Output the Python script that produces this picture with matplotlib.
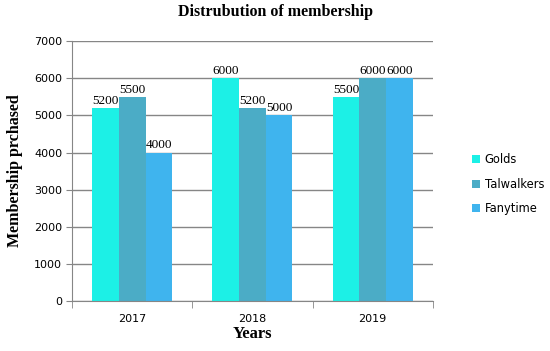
import numpy as np
import matplotlib.pyplot as plt

years = ['2017', '2018', '2019']
golds = [5200, 6000, 5500]
talwalkers = [5500, 5200, 6000]
fanytime = [4000, 5000, 6000]
series_names = ['Golds', 'Talwalkers', 'Fanytime']
colors = ['#1CF0E6', '#4BACC6', '#3FB4EE']

fig = plt.figure(figsize=(5.5, 3.51), dpi=100)
ax = fig.add_axes([0.131, 0.142, 0.656, 0.741])

x = np.arange(len(years))
w = 0.222
for i, (vals, name, c) in enumerate(zip([golds, talwalkers, fanytime], series_names, colors)):
    bars = ax.bar(x + (i - 1) * w, vals, w, color=c, label=name, zorder=2)
    for b, v in zip(bars, vals):
        ax.text(b.get_x() + b.get_width() / 2, v + 30, str(v), ha='center', va='bottom',
                fontsize=9.5, family='Liberation Serif')

ax.set_xlim(-0.5, 2.5)
ax.set_ylim(0, 7000)
ax.set_yticks(range(0, 7001, 1000))
ax.yaxis.grid(True, color='#868686', linewidth=1, zorder=0)
ax.set_xticks(x)
ax.set_xticklabels(years, fontsize=8)
ax.set_xticks([-0.5, 0.5, 1.5, 2.5], minor=True)
ax.tick_params(axis='x', which='major', length=0, pad=9)
ax.tick_params(axis='x', which='minor', length=5, color='#868686')
ax.tick_params(axis='y', length=4, color='#868686', labelsize=8, pad=3)
for s in ['top', 'right']:
    ax.spines[s].set_visible(False)
for s in ['left', 'bottom']:
    ax.spines[s].set_color('#868686')

ax.set_xlabel('Years', fontsize=12, fontweight='bold', family='Liberation Serif', labelpad=2)
ax.set_ylabel('Membership prchased', fontsize=11.5, fontweight='bold', family='Liberation Serif', labelpad=8)
fig.text(0.5, 0.965, 'Distrubution of membership', ha='center', va='center',
         fontsize=11.5, fontweight='bold', family='Liberation Serif')

ax.legend(loc='center left', bbox_to_anchor=(1.08, 0.45), frameon=False, fontsize=8.3,
          handlelength=0.7, handleheight=0.7, handletextpad=0.4, labelspacing=1.0)

fig.savefig('out.png', dpi=100)
